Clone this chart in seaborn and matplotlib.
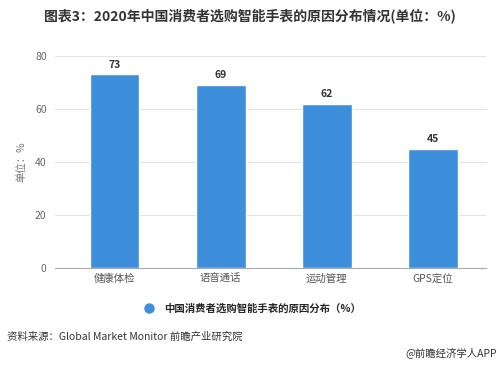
import matplotlib
matplotlib.use("Agg")
import matplotlib.pyplot as plt
from matplotlib.lines import Line2D
import pandas as pd
import seaborn as sns

categories = ["健康体检", "语音通话", "运动管理", "GPS定位"]
values = [73, 69, 62, 45]
y_ticks = [0, 20, 40, 60, 80]
series_name = "中国消费者选购智能手表的原因分布（%）"

sns.set_style("white")
plt.rcParams['font.family'] = ['Noto Sans CJK SC', 'DejaVu Sans']

df = pd.DataFrame({"cat": categories, "val": values})

fig = plt.figure(figsize=(5, 3.65), dpi=100)
ax = fig.add_axes([0.11, 0.265, 0.862, 0.582])

bar_color = "#3d8edb"
sns.barplot(data=df, x="cat", y="val", color=bar_color, width=0.47,
            saturation=1, ax=ax)

ax.set_ylim(0, 80)
ax.set_xlim(-0.56, 3.5)
ax.set_yticks(y_ticks)
ax.yaxis.grid(True, color="#e3e3e3", linewidth=0.8)
ax.set_axisbelow(True)
for s in ["top", "right", "left"]:
    ax.spines[s].set_visible(False)
ax.spines["bottom"].set_color("#aaaaaa")
ax.spines["bottom"].set_linewidth(0.8)
ax.tick_params(axis="y", length=0, labelsize=7.5, labelcolor="#666666", pad=6)
ax.tick_params(axis="x", length=3, color="#aaaaaa", labelsize=7.5,
               labelcolor="#555555", pad=1)
ax.set_xlabel("")
ax.set_ylabel("单位：%", fontsize=7.5, color="#777777", labelpad=6)

for i, v in enumerate(values):
    ax.text(i, v + 1.8, str(v), ha="center", va="bottom", fontsize=7.5,
            fontweight="bold", color="#333333")

fig.text(0.5, 0.958, "图表3：2020年中国消费者选购智能手表的原因分布情况(单位：%)",
         ha="center", va="center", fontsize=10, fontweight="bold", color="#333333")

handle = Line2D([], [], marker="o", linestyle="none", markersize=6.5,
                markerfacecolor=bar_color, markeredgecolor=bar_color)
fig.legend([handle], [series_name], loc="center", bbox_to_anchor=(0.5, 0.155),
           frameon=False, handletextpad=0.4,
           prop={"weight": "bold", "size": 7.5})

fig.text(0.014, 0.077, "资料来源：Global Market Monitor 前瞻产业研究院",
         ha="left", va="center", fontsize=7.5, color="#333333")
fig.text(0.994, 0.035, "@前瞻经济学人APP", ha="right", va="center",
         fontsize=7.5, color="#333333")

fig.savefig("out.png", dpi=100, facecolor="white")
